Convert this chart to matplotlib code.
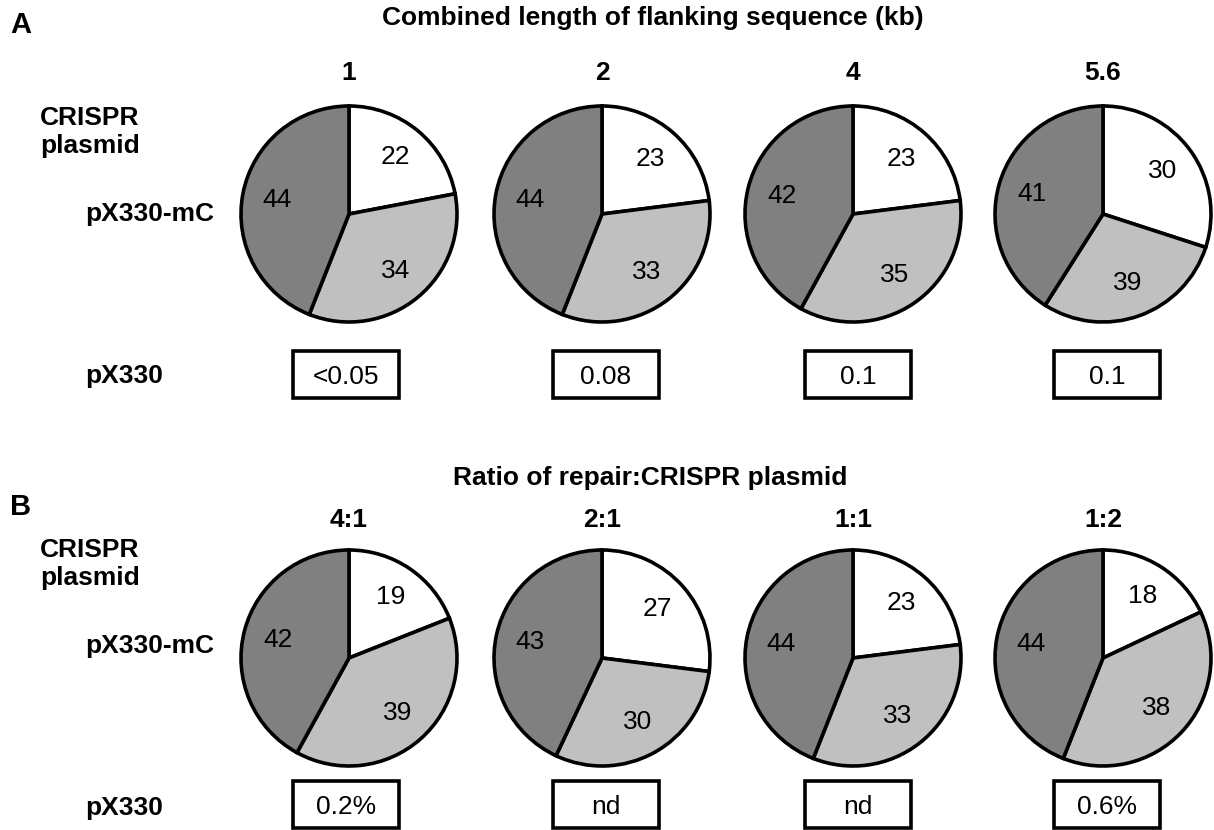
import numpy as np
import matplotlib.pyplot as plt
from matplotlib.patches import Rectangle

plt.rcParams['font.family'] = ['Liberation Sans', 'DejaVu Sans']

W, H = 1214, 830

# panel A: combined length of flanking sequence (kb)
flank_labels = ["1", "2", "4", "5.6"]
flank_white = [22, 23, 23, 30]
flank_light = [34, 33, 35, 29]
flank_dark = [44, 44, 42, 41]
# numbers printed on the wedges (last light wedge is printed as 39 in the source)
flank_white_txt = ["22", "23", "23", "30"]
flank_light_txt = ["34", "33", "35", "39"]
flank_dark_txt = ["44", "44", "42", "41"]
flank_px330 = ["<0.05", "0.08", "0.1", "0.1"]

# panel B: ratio of repair:CRISPR plasmid
ratio_labels = ["4:1", "2:1", "1:1", "1:2"]
ratio_white = [19, 27, 23, 18]
ratio_light = [39, 30, 33, 38]
ratio_dark = [42, 43, 44, 44]
ratio_white_txt = ["19", "27", "23", "18"]
ratio_light_txt = ["39", "30", "33", "38"]
ratio_dark_txt = ["42", "43", "44", "44"]
ratio_px330 = ["0.2%", "nd", "nd", "0.6%"]

colors = ["white", "#c0c0c0", "#808080"]
pie_x = [349, 602, 853, 1103]
box_x = [346, 606, 858, 1107]
R = 108
LW = 2.6
BOLD = 19

fig = plt.figure(figsize=(W / 100, H / 100), dpi=100)
bg = fig.add_axes([0, 0, 1, 1])
bg.set_xlim(0, W)
bg.set_ylim(H, 0)
bg.axis("off")


def draw_pie(cx, cy, sizes, texts):
    pad = 1.06
    ax = fig.add_axes([(cx - R * pad) / W, (H - cy - R * pad) / H,
                       2 * R * pad / W, 2 * R * pad / H])
    wedges, _ = ax.pie(sizes, colors=colors, startangle=90, counterclock=False,
                       wedgeprops=dict(edgecolor="black", linewidth=LW))
    for w, t in zip(wedges, texts):
        ang = np.deg2rad((w.theta1 + w.theta2) / 2)
        ax.text(0.68 * np.cos(ang), 0.68 * np.sin(ang), t, ha="center",
                va="center", fontsize=19, color="black")
    ax.set_xlim(-pad, pad)
    ax.set_ylim(-pad, pad)
    ax.set_aspect("equal")


def draw_panel(letter, title, col_labels, white, light, dark, wt, lt, dt, px330,
               y_letter, y_title, title_x, y_col, y_row, y_pie, y_box):
    bold = dict(fontsize=BOLD, fontweight="bold", va="baseline")
    bg.text(10, y_letter, letter, fontsize=21, fontweight="bold", va="baseline")
    bg.text(title_x, y_title, title, ha="center", **bold)
    bg.text(40, y_row, "CRISPR", **bold)
    bg.text(40, y_row + 28, "plasmid", **bold)
    bg.text(85, y_row + 96, "pX330-mC", **bold)
    bg.text(85, y_row + 258, "pX330", **bold)
    for i in range(4):
        bg.text(pie_x[i], y_col, col_labels[i], ha="center", **bold)
        draw_pie(pie_x[i], y_pie, [white[i], light[i], dark[i]],
                 [wt[i], lt[i], dt[i]])
        bg.add_patch(Rectangle((box_x[i] - 53, y_box), 106, 47,
                               facecolor="white", edgecolor="black",
                               linewidth=LW))
        bg.text(box_x[i], y_box + 33, px330[i], fontsize=19, ha="center",
                va="baseline", color="black")


draw_panel("A", "Combined length of flanking sequence (kb)", flank_labels,
           flank_white, flank_light, flank_dark, flank_white_txt,
           flank_light_txt, flank_dark_txt, flank_px330,
           y_letter=33, y_title=25, title_x=653, y_col=80, y_row=125,
           y_pie=214, y_box=351)
draw_panel("B", "Ratio of repair:CRISPR plasmid", ratio_labels,
           ratio_white, ratio_light, ratio_dark, ratio_white_txt,
           ratio_light_txt, ratio_dark_txt, ratio_px330,
           y_letter=515, y_title=485, title_x=650, y_col=527, y_row=557,
           y_pie=658, y_box=781)

fig.savefig("out.png", dpi=100)
